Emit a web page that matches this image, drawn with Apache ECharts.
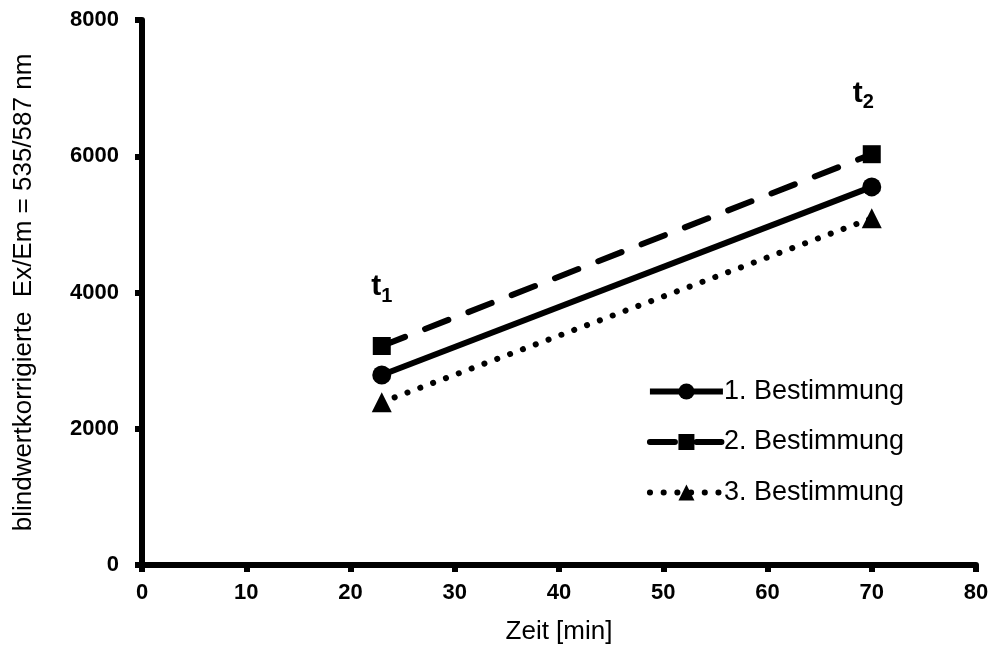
<!DOCTYPE html>
<html><head><meta charset="utf-8">
<script src="https://cdn.jsdelivr.net/npm/echarts@6/dist/echarts.min.js"></script>
<style>html,body{margin:0;padding:0;background:#fff}#c{width:992px;height:646px}</style>
</head><body><div id="c"></div>
<script>
const xValues = [23, 70];
const series1 = [2790, 5550];
const series2 = [3215, 6030];
const series3 = [2390, 5090];
const seriesNames = ['1. Bestimmung', '2. Bestimmung', '3. Bestimmung'];
const timeLabels = [{sub: '1', x: 23, y: 4080}, {sub: '2', x: 69.2, y: 6920}];

const chart = echarts.init(document.getElementById('c'));
const font = '"Liberation Sans", Arial, sans-serif';
const pairs = arr => xValues.map((x, i) => [x, arr[i]]);
chart.setOption({
  animation: false,
  backgroundColor: '#fff',
  grid: {left: 142, right: 16, top: 20, bottom: 81, containLabel: false, outerBoundsMode: 'none'},
  xAxis: {
    type: 'value', min: 0, max: 80, interval: 10,
    name: 'Zeit [min]', nameLocation: 'middle', nameGap: 54,
    nameTextStyle: {fontFamily: font, fontSize: 26, color: '#000'},
    axisLine: {lineStyle: {color: '#000', width: 6}},
    axisTick: {show: true, length: 7, lineStyle: {color: '#000', width: 6}},
    axisLabel: {fontFamily: font, fontSize: 22, fontWeight: 'bold', color: '#000', margin: 17},
    splitLine: {show: false}
  },
  yAxis: {
    type: 'value', min: 0, max: 8000, interval: 2000,
    name: 'blindwertkorrigierte  Ex/Em = 535/587 nm', nameLocation: 'middle', nameGap: 105,
    nameTextStyle: {fontFamily: font, fontSize: 26, color: '#000'},
    axisLine: {show: true, lineStyle: {color: '#000', width: 6}},
    axisTick: {show: true, length: 7, lineStyle: {color: '#000', width: 6}},
    axisLabel: {fontFamily: font, fontSize: 22, fontWeight: 'bold', color: '#000', margin: 23,
                formatter: v => String(v)},
    splitLine: {show: false}
  },
  legend: {
    right: 83, top: 373, orient: 'vertical', itemGap: 23.5,
    itemWidth: 73, itemHeight: 20,
    lineStyle: {width: 6},
    textStyle: {fontFamily: font, fontSize: 27, color: '#000', padding: [0, 0, 0, -4]},
    data: seriesNames
  },
  series: [
    {name: seriesNames[0], type: 'line', data: pairs(series1), symbol: 'circle', symbolSize: 19,
     itemStyle: {color: '#000'}, lineStyle: {color: '#000', width: 6}},
    {name: seriesNames[1], type: 'line', data: pairs(series2), symbol: 'rect', symbolSize: 18,
     itemStyle: {color: '#000'}, lineStyle: {color: '#000', width: 6, type: [25, 21.5], cap: 'round'}},
    {name: seriesNames[2], type: 'line', data: pairs(series3), symbol: 'triangle', symbolSize: 20,
     itemStyle: {color: '#000'}, lineStyle: {color: '#000', width: 6, type: [0.1, 13.6], cap: 'round'}}
  ]
});
const g = timeLabels.map(t => {
  const p = chart.convertToPixel({gridIndex: 0}, [t.x, t.y]);
  return {
    type: 'text', x: p[0], y: p[1],
    style: {
      text: '{a|t}{b|' + t.sub + '}',
      align: 'center', verticalAlign: 'middle',
      rich: {
        a: {fontFamily: font, fontSize: 30, fontWeight: 'bold', fill: '#000'},
        b: {fontFamily: font, fontSize: 20, fontWeight: 'bold', fill: '#000', padding: [18, 0, 0, 0]}
      }
    }
  };
});
chart.setOption({graphic: g});
</script></body></html>
